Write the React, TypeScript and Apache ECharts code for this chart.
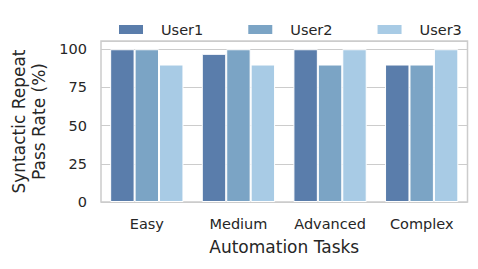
import React, { useEffect, useRef } from "react";
import * as echarts from "echarts";

const categories = ["Easy", "Medium", "Advanced", "Complex"];
const seriesNames = ["User1", "User2", "User3"];
const user1 = [100, 97, 100, 90];
const user2 = [100, 100, 90, 90];
const user3 = [90, 90, 100, 100];
const yTicks = [0, 25, 50, 75, 100];

const colors = ["#5a7dab", "#7ba4c5", "#a8cbe5"];
const FONT = "DejaVu Sans";

export default function App() {
  const ref = useRef<HTMLDivElement>(null);
  useEffect(() => {
    const chart = echarts.init(ref.current!, undefined, { renderer: "svg" });
    const data = [user1, user2, user3];
    chart.setOption({
      animation: false,
      textStyle: { fontFamily: FONT },
      legend: {
        top: 17,
        left: 112,
        itemWidth: 26,
        itemHeight: 11,
        itemGap: 43,
        icon: "rect",
        textStyle: { fontSize: 14.5, color: "#262626", fontFamily: FONT, padding: [0, 0, 0, 12] },
        data: seriesNames,
      },
      grid: { left: 101, right: 10.5, top: 41, bottom: 67, show: true, borderColor: "#cccccc", borderWidth: 1.5 },
      xAxis: {
        type: "category",
        data: categories,
        name: "Automation Tasks",
        nameLocation: "middle",
        nameGap: 36,
        nameTextStyle: { fontSize: 17, color: "#262626", fontFamily: FONT },
        axisLine: { show: false },
        axisTick: { show: false },
        axisLabel: { fontSize: 14.5, color: "#262626", margin: 14, fontFamily: FONT, interval: 0 },
      },
      yAxis: {
        type: "value",
        min: 0,
        max: 105.4,
        interval: 25,
        name: "Syntactic Repeat\nPass Rate (%)",
        nameLocation: "middle",
        nameGap: 50,
        nameTextStyle: { fontSize: 17, color: "#262626", fontFamily: FONT, lineHeight: 19.5 },
        axisLine: { show: false },
        axisTick: { show: false },
        axisLabel: {
          fontSize: 14.5,
          color: "#262626",
          margin: 14,
          fontFamily: FONT,
          formatter: (v: number) => (yTicks.includes(v) ? String(v) : ""),
        },
        splitLine: { lineStyle: { color: "#cccccc", width: 1.2 } },
      },
      series: seriesNames.map((n, i) => ({
        name: n,
        type: "bar",
        data: data[i],
        barGap: "0%",
        barCategoryGap: "20%",
        itemStyle: { color: colors[i], borderColor: "#ffffff", borderWidth: 1 },
      })),
    });
    return () => chart.dispose();
  }, []);
  return <div ref={ref} style={{ width: 478, height: 269, position: "absolute", left: 0, top: 0 }} />;
}
